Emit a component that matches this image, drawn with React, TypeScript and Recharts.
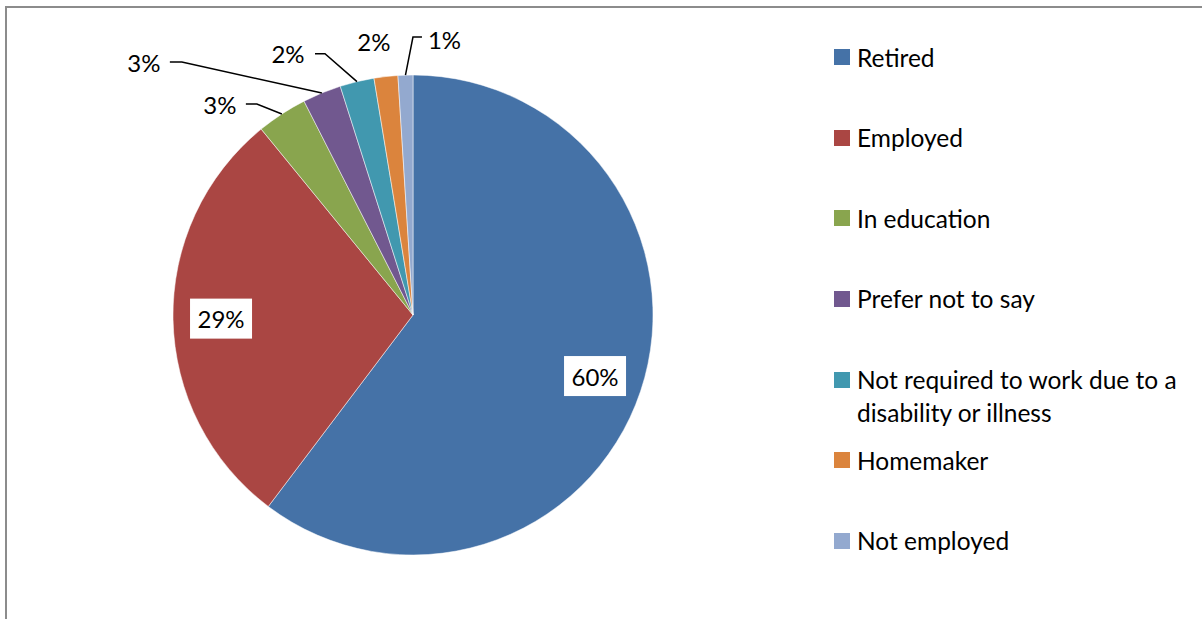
import { PieChart, Pie, Cell, Legend } from 'recharts';

const categories = [
  'Retired',
  'Employed',
  'In education',
  'Prefer not to say',
  'Not required to work due to a disability or illness',
  'Homemaker',
  'Not employed',
];
const shares = [60.3, 28.8, 3.4, 2.6, 2.3, 1.6, 1.0];
const colors = ['#4572A7', '#AA4643', '#89A54E', '#71588F', '#4198AF', '#DB843D', '#93A9CF'];

const data = categories.map((name, i) => ({ name, value: shares[i] }));

const FONT = 'Lato, "Noto Sans", sans-serif';
const RAD = Math.PI / 180;

// callouts for the thin slices: offsets from the slice's outer edge at its mid angle
const callouts: Record<number, { text: [number, number]; line: [number, number][] }> = {
  2: { text: [-62, -9], line: [[-25, -10], [-36, -10]] },
  3: { text: [-178, -30], line: [[-140, -31], [-152, -31]] },
  4: { text: [-69, -28], line: [[-32, -28], [-42, -28]] },
  5: { text: [-12, -35], line: [] },
  6: { text: [39, -36], line: [[7.5, -38], [16.5, -38]] },
};

function renderLabel(props: any) {
  const { cx, cy, midAngle, outerRadius, index } = props;
  const value = props.value ?? shares[index];
  const cos = Math.cos(-midAngle * RAD);
  const sin = Math.sin(-midAngle * RAD);
  const label = `${Math.round(value)}%`;

  if (index < 2) {
    const r = outerRadius * 0.8;
    const x = cx + r * cos;
    const y = cy + r * sin;
    return (
      <g key={`lbl-${index}`}>
        <rect x={x - 31} y={y - 20} width={62} height={40} fill="#fff" />
        <text x={x} y={y} textAnchor="middle" dominantBaseline="central" fontSize={24} fontFamily={FONT} fill="#000">
          {label}
        </text>
      </g>
    );
  }

  const ex = cx + outerRadius * cos;
  const ey = cy + outerRadius * sin;
  const c = callouts[index];
  const pts = [[ex, ey], ...c.line.map(([dx, dy]) => [ex + dx, ey + dy])];
  return (
    <g key={`lbl-${index}`}>
      {c.line.length > 0 && (
        <polyline points={pts.map((p) => p.join(',')).join(' ')} fill="none" stroke="#000" strokeWidth={1.5} />
      )}
      <text
        x={ex + c.text[0]}
        y={ey + c.text[1]}
        textAnchor="middle"
        dominantBaseline="central"
        fontSize={24}
        fontFamily={FONT}
        fill="#000"
      >
        {label}
      </text>
    </g>
  );
}

// legend keeps the series order (Excel style), not the alphabetical one
function renderLegend() {
  return (
    <div style={{ fontFamily: FONT, fontSize: 24.5, color: '#000' }}>
      {categories.map((name, i) => (
        <div key={name} style={{ height: 80.67, display: 'flex', alignItems: 'flex-start' }}>
          <div
            style={{
              width: 16,
              height: 16,
              background: colors[i],
              marginTop: 8.5,
              marginRight: 7,
              flexShrink: 0,
            }}
          />
          <div style={{ lineHeight: '33px', width: 340 }}>{name}</div>
        </div>
      ))}
    </div>
  );
}

export default function App() {
  return (
    <div style={{ position: 'relative', width: 1202, height: 619, background: '#fff' }}>
      <style>{'body{margin:0}'}</style>
      <div
        style={{
          position: 'absolute',
          left: 5,
          top: 6,
          width: 1210,
          height: 630,
          borderTop: '2px solid #8c8c8c',
          borderLeft: '2px solid #8c8c8c',
          boxSizing: 'border-box',
        }}
      />
      <div style={{ position: 'absolute', left: 0, top: 0 }}>
        <PieChart width={1202} height={619} margin={{ top: 0, right: 0, bottom: 0, left: 0 }}>
          <Pie
            data={data}
            dataKey="value"
            nameKey="name"
            cx={413}
            cy={315}
            outerRadius={240}
            startAngle={90}
            endAngle={-270}
            stroke="#fff"
            strokeWidth={0.5}
            label={renderLabel}
            labelLine={false}
            isAnimationActive={false}
          >
            {data.map((d, i) => (
              <Cell key={d.name} fill={colors[i]} />
            ))}
          </Pie>
          <Legend
            layout="vertical"
            verticalAlign="top"
            align="right"
            content={renderLegend}
            wrapperStyle={{ position: 'absolute', left: 834, top: 40.5, width: 368 }}
          />
        </PieChart>
      </div>
    </div>
  );
}
